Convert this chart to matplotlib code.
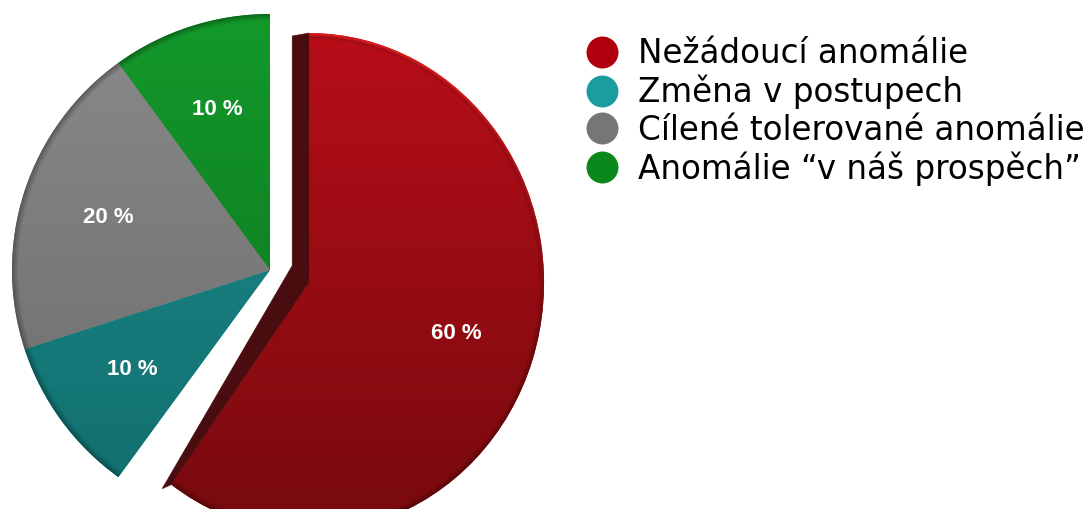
import numpy as np
import matplotlib.pyplot as plt
from matplotlib.colors import to_rgb
from matplotlib.lines import Line2D
from matplotlib.patches import Polygon
from matplotlib.transforms import Affine2D

labels = ['Nežádoucí anomálie', 'Změna v postupech',
          'Cílené tolerované anomálie', 'Anomálie “v náš prospěch”']
values = [60, 10, 20, 10]

legend_colors = ['#b0000e', '#1b9c9e', '#767676', '#0b881c']
top_colors = ['#b80e18', '#1c8c8c', '#8a8a8a', '#13992a']
bottom_colors = ['#760a0e', '#126e6e', '#6a6a6a', '#0c6e1e']
side_color = '#4a0d0f'

W, H = 1085, 509
fig = plt.figure(figsize=(W / 100, H / 100), dpi=100)
ax = fig.add_axes([0, 0, 1, 1])

# pixels per data unit and pie centre (in pixels from top-left)
ux, uy = 258, 256
cx_px, cy_px = 270, 270

wedges, texts, autotexts = ax.pie(
    values, colors=legend_colors, startangle=90, counterclock=False,
    explode=[0.16, 0, 0, 0], autopct='%.0f %%', pctdistance=0.66,
    textprops=dict(color='white', fontsize=16, fontweight='bold',
                   family='Liberation Sans'))

ax.set_aspect('auto')
xlim = (-cx_px / ux, (W - cx_px) / ux)
ylim = (-(H - cy_px) / uy, cy_px / uy)
ax.set_xlim(*xlim)
ax.set_ylim(*ylim)
ax.axis('off')

# the exploded slice looks a bit narrower (perspective)
red = wedges[0]
rcx, rcy = red.center
sx, sy = 0.91, 0.975
red_tf = Affine2D().translate(-rcx, -rcy).scale(sx, sy).translate(rcx, rcy)
red.set_transform(red_tf + ax.transData)
autotexts[0].set_transform(red_tf + ax.transData)
for t in autotexts:
    t.set_zorder(5)

# dark side of the exploded slice
r = red.r
P = np.array([rcx, rcy])
T = P + np.array([0, r * sy])
a = np.deg2rad(red.theta1)
B = P + r * np.array([sx * np.cos(a), sy * np.sin(a)])
s1 = np.array([-17 / ux, -3 / uy])
s2 = np.array([-17 / ux, 17 / uy])
s3 = np.array([-9 / ux, -4 / uy])
for pts in ([P, T, T + s1, P + s2], [P + s2, P, B, B + s3]):
    ax.add_patch(Polygon(pts, closed=True, facecolor=side_color,
                         edgecolor=side_color, lw=0.5, zorder=1.5))

# shaded faces: vertical gradient plus a thin darker rim
xs = np.linspace(xlim[0], xlim[1], W)
ys = np.linspace(ylim[1], ylim[0], H)
X, Y = np.meshgrid(xs, ys)
for i, w in enumerate(wedges):
    wx, wy = w.center
    fx, fy = (sx, sy) if i == 0 else (1, 1)
    t = np.clip(((wy + r * fy) - Y) / (2 * r * fy), 0, 1)[..., None]
    c0 = np.array(to_rgb(top_colors[i]))
    c1 = np.array(to_rgb(bottom_colors[i]))
    img = c0 * (1 - t) + c1 * t
    rho = np.hypot((X - wx) / fx, (Y - wy) / fy) / r
    rim = 1 - 0.3 * np.clip((rho - 0.975) / 0.025, 0, 1)
    img = img * rim[..., None]
    if i == 0:
        # light edge along the upper right of the red slice
        glow = np.clip((rho - 0.985) / 0.015, 0, 1) * np.clip(1.2 - 2 * t[..., 0], 0, 1)
        img = img + glow[..., None] * (np.array([1.0, 0.15, 0.15]) - img) * 0.8
    im = ax.imshow(np.clip(img, 0, 1),
                   extent=(xlim[0], xlim[1], ylim[0], ylim[1]),
                   origin='upper', aspect='auto', zorder=2,
                   interpolation='bilinear')
    im.set_clip_path(w)

ax.set_xlim(*xlim)
ax.set_ylim(*ylim)

handles = [Line2D([], [], marker='o', linestyle='', markersize=23,
                  markerfacecolor=c, markeredgecolor='none')
           for c in legend_colors]
ax.legend(handles, labels, loc='upper left',
          bbox_to_anchor=(586 / W, 1 - 37 / H), bbox_transform=fig.transFigure,
          frameon=False, prop={'family': 'DejaVu Sans', 'size': 23.5},
          handlelength=1.0, handletextpad=0.6, labelspacing=0.14,
          borderpad=0, borderaxespad=0)

fig.savefig('out.png', dpi=100)
